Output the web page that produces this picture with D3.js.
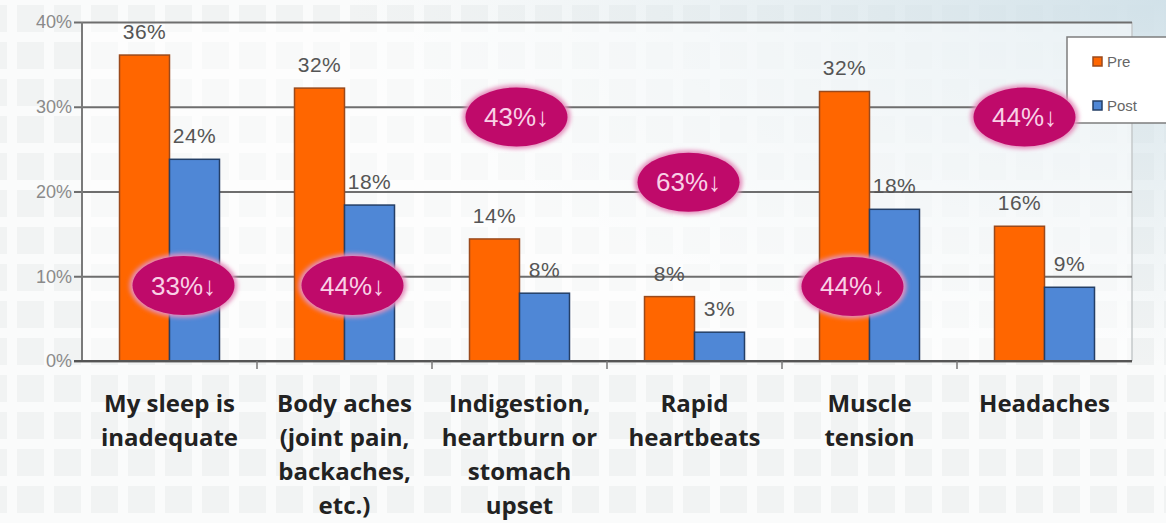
<!DOCTYPE html>
<html>
<head>
<meta charset="utf-8">
<script src="https://cdn.jsdelivr.net/npm/d3@7"></script>
<style>
  html, body { margin: 0; padding: 0; background: #f8f9f9; }
  svg { display: block; }
</style>
</head>
<body>
<svg id="chart" width="1166" height="523"></svg>
<script>
// ---- data ----
const categories = [
  ["My sleep is", "inadequate"],
  ["Body aches", "(joint pain,", "backaches,", "etc.)"],
  ["Indigestion,", "heartburn or", "stomach", "upset"],
  ["Rapid", "heartbeats"],
  ["Muscle", "tension"],
  ["Headaches"]
];
const seriesNames = ["Pre", "Post"];
const preValues  = [36.1, 32.2, 14.4, 7.6, 31.8, 15.9];
const postValues = [23.8, 18.4, 8.0, 3.4, 17.9, 8.7];
const yTicks = [0, 10, 20, 30, 40];
const annoText  = ["33%↓", "44%↓", "43%↓", "63%↓", "44%↓", "44%↓"];
const annoLevel = [8.9, 8.9, 28.8, 21.1, 8.8, 28.8];

// ---- layout ----
const W = 1166, H = 523;
const plot = { left: 82, right: 1132, top: 22, bottom: 361 };
const annoDx = [14, 8, -3, -6, -17, -20];
const colors = { Pre: "#ff6600", Post: "#4f87d6" };
const strokes = { Pre: "#9a4a1c", Post: "#243f66" };

const svg = d3.select("#chart");
const defs = svg.append("defs");

// background pattern
const pat = defs.append("pattern").attr("id", "bgpat")
  .attr("width", 37).attr("height", 37).attr("patternUnits", "userSpaceOnUse")
  .attr("x", 12).attr("y", 0);
pat.append("rect").attr("width", 37).attr("height", 37).attr("fill", "#fafbfb");
pat.append("rect").attr("x", 5).attr("y", 5).attr("width", 27).attr("height", 27).attr("fill", "#f1f3f3");

const grad = defs.append("radialGradient").attr("id", "tint")
  .attr("cx", 1).attr("cy", 0).attr("r", 0.7);
grad.append("stop").attr("offset", "0%").attr("stop-color", "#cfe0e8").attr("stop-opacity", 0.95);
grad.append("stop").attr("offset", "100%").attr("stop-color", "#dde8ec").attr("stop-opacity", 0);

const glow = defs.append("filter").attr("id", "glow")
  .attr("x", "-30%").attr("y", "-30%").attr("width", "160%").attr("height", "160%");
glow.append("feGaussianBlur").attr("stdDeviation", 2.2);

svg.append("rect").attr("width", W).attr("height", H).attr("fill", "url(#bgpat)");
svg.append("rect").attr("width", W).attr("height", H).attr("fill", "url(#tint)");
// plot area slightly lighter
svg.append("rect")
  .attr("x", plot.left).attr("y", plot.top)
  .attr("width", plot.right - plot.left).attr("height", plot.bottom - plot.top)
  .attr("fill", "#ffffff").attr("opacity", 0.5);

// ---- scales ----
const x0 = d3.scaleBand().domain(d3.range(categories.length))
  .range([plot.left, plot.right]).padding(0);
const x1 = d3.scaleBand().domain(seriesNames)
  .range([0, x0.bandwidth()]).paddingInner(0).paddingOuter(0.75);
const y = d3.scaleLinear().domain([0, 40]).range([plot.bottom, plot.top]);

// right frame line
svg.append("line")
  .attr("x1", plot.right).attr("x2", plot.right)
  .attr("y1", plot.top).attr("y2", plot.bottom)
  .attr("stroke", "#c4c8ca").attr("stroke-width", 1.5);

// ---- y axis with gridlines ----
const yAxis = d3.axisLeft(y).tickValues(yTicks)
  .tickFormat(d => d + "%")
  .tickSize(-(plot.right - plot.left + 8)).tickPadding(12);
const gy = svg.append("g")
  .attr("transform", `translate(${plot.left - 8},0)`)
  .call(yAxis);
gy.select(".domain").remove();
gy.selectAll(".tick line").attr("stroke", "#6e6e6e").attr("stroke-width", 2);
gy.selectAll(".tick text")
  .attr("fill", "#8a8a8a")
  .style("font-family", "'Liberation Sans', Arial, sans-serif")
  .style("font-size", "18px")
  .attr("x", -2);

// vertical axis line
svg.append("line")
  .attr("x1", plot.left).attr("x2", plot.left)
  .attr("y1", plot.top).attr("y2", plot.bottom)
  .attr("stroke", "#7a7a7a").attr("stroke-width", 2);

// ---- bars ----
const rows = categories.map((c, i) => ({ i, values: [
  { key: "Pre", v: preValues[i] }, { key: "Post", v: postValues[i] }] }));

const groups = svg.append("g").selectAll("g").data(rows).join("g")
  .attr("transform", d => `translate(${x0(d.i)},0)`);

groups.selectAll("rect").data(d => d.values).join("rect")
  .attr("x", d => x1(d.key))
  .attr("y", d => y(d.v))
  .attr("width", x1.bandwidth())
  .attr("height", d => y(0) - y(d.v))
  .attr("fill", d => colors[d.key])
  .attr("stroke", d => strokes[d.key])
  .attr("stroke-width", 1.5);

groups.selectAll("text.val").data(d => d.values).join("text")
  .attr("class", "val")
  .attr("x", d => x1(d.key) + x1.bandwidth() / 2)
  .attr("y", d => y(d.v) - 16)
  .attr("text-anchor", "middle")
  .attr("fill", "#555")
  .style("font-family", "'Liberation Sans', Arial, sans-serif")
  .style("font-size", "21px")
  .style("letter-spacing", "0.5px")
  .text(d => d3.format(".0f")(d.v) + "%");

// ---- x axis ----
svg.append("line")
  .attr("x1", plot.left - 8).attr("x2", plot.right)
  .attr("y1", y(0)).attr("y2", y(0))
  .attr("stroke", "#555").attr("stroke-width", 2);
svg.append("g").selectAll("line")
  .data(d3.range(1, categories.length)).join("line")
  .attr("x1", d => x0(d)).attr("x2", d => x0(d))
  .attr("y1", y(0)).attr("y2", y(0) + 8)
  .attr("stroke", "#777").attr("stroke-width", 1.5);

const catLabels = svg.append("g").selectAll("text").data(categories).join("text")
  .attr("text-anchor", "middle")
  .attr("fill", "#222")
  .style("font-family", "'Open Sans', sans-serif")
  .style("font-weight", "bold")
  .style("font-size", "24px")
  .attr("transform", (d, i) => `translate(${x0(i) + x0.bandwidth() / 2},412)`);
catLabels.selectAll("tspan").data(d => d).join("tspan")
  .attr("x", 0).attr("y", (d, j) => j * 34)
  .text(d => d);

// ---- legend ----
const lg = svg.append("g");
lg.append("rect").attr("x", 1067).attr("y", 37).attr("width", 110).attr("height", 86)
  .attr("fill", "#ffffff").attr("stroke", "#7d7d7d").attr("stroke-width", 1.5);
seriesNames.forEach((s, k) => {
  lg.append("rect").attr("x", 1093).attr("y", 57 + k * 44).attr("width", 9).attr("height", 9)
    .attr("fill", colors[s]).attr("stroke", strokes[s]).attr("stroke-width", 1.5);
  lg.append("text").attr("x", 1107).attr("y", 67 + k * 44)
    .attr("fill", "#666")
    .style("font-family", "'Liberation Sans', Arial, sans-serif")
    .style("font-size", "15px")
    .text(s);
});

// ---- reduction badges ----
const badges = svg.append("g").selectAll("g").data(annoText).join("g")
  .attr("transform", (d, i) => `translate(${x0(i) + x0.bandwidth() / 2 + annoDx[i]},${y(annoLevel[i])})`);
badges.append("ellipse").attr("rx", 54).attr("ry", 32)
  .attr("fill", "#e590bd").attr("filter", "url(#glow)");
badges.append("ellipse").attr("rx", 51).attr("ry", 29.5)
  .attr("fill", "#bf0a6a");
badges.append("text")
  .attr("text-anchor", "middle").attr("y", 9)
  .attr("fill", "#f9d0e6")
  .style("font-family", "'Liberation Sans', Arial, sans-serif")
  .style("font-size", "26px")
  .text(d => d);
</script>
</body>
</html>
